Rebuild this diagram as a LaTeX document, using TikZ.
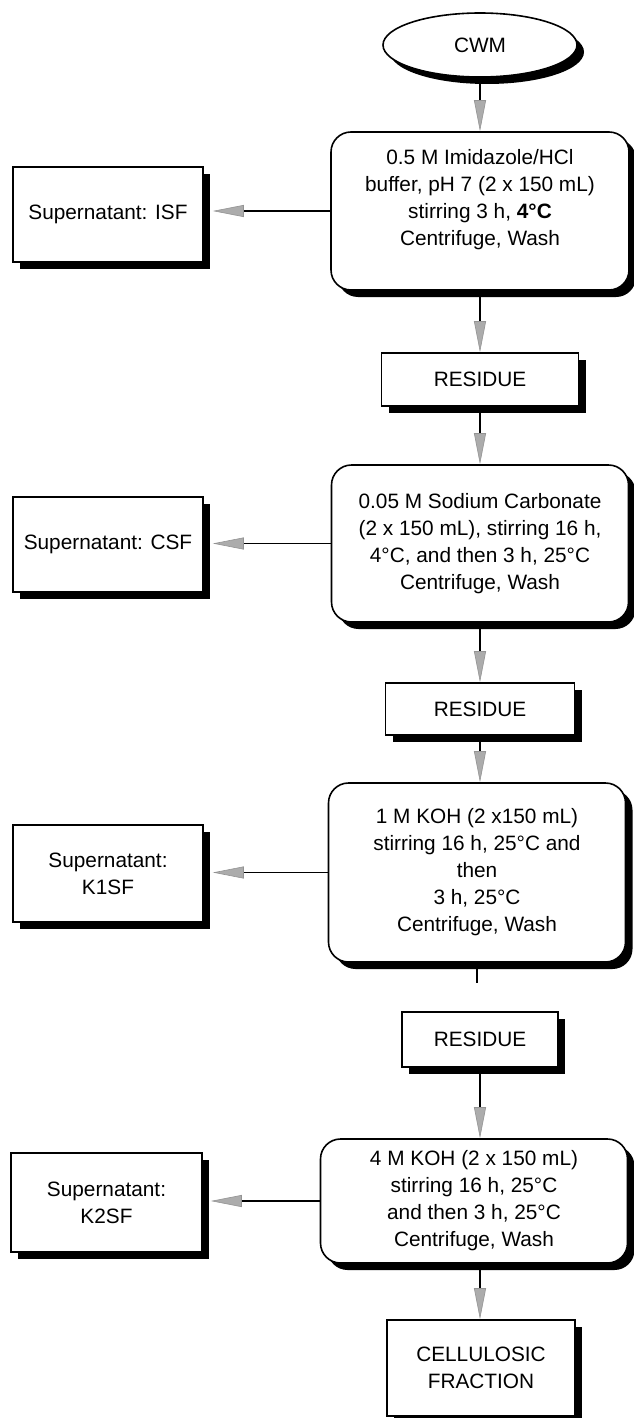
\documentclass[tikz,border=0pt]{standalone}
\usepackage{fontspec}
\setmainfont{Liberation Sans}
\usetikzlibrary{shapes.geometric,shadows,arrows.meta}
\begin{document}
\begin{tikzpicture}[x=1pt,y=-1pt,
  font=\fontsize{20.8}{27}\selectfont,
  shad/.style={drop shadow={shadow xshift=7pt,shadow yshift=-7pt,opacity=1,fill=black}},
  sqbox/.style={draw,line width=1.6pt,fill=white,shad,align=center,inner sep=0pt},
  rbox/.style={sqbox,rounded corners=20pt},
  conn/.style={line width=1.3pt,-{Triangle[length=31pt,width=12pt,color=gray!85,fill=gray!65,line width=0.6pt]}},
  plain/.style={line width=1.3pt}
  ]
\useasboundingbox (0,0) rectangle (634,1418);
% column nodes
\node[ellipse,draw,line width=1.6pt,fill=white,shad,minimum width=194pt,minimum height=64pt,inner sep=0pt] (cwm) at (480,45) {CWM};
\node[rbox,minimum width=298pt,minimum height=158pt] (b1) at (480,211)
  {0.5 M Imidazole/HCl\\buffer, pH 7 (2 x 150 mL)\\stirring 3 h, \textbf{4°C}\\Centrifuge, Wash\\\mbox{}};
\node[sqbox,minimum width=197pt,minimum height=53pt] (r1) at (480,379.5) {RESIDUE};
\node[rbox,minimum width=297pt,minimum height=157pt] (b2) at (480,543.5)
  {0.05 M Sodium Carbonate\\(2 x 150 mL), stirring 16 h,\\4°C, and then 3 h, 25°C\\Centrifuge, Wash};
\node[sqbox,minimum width=189pt,minimum height=52pt] (r2) at (480,709) {RESIDUE};
\node[rbox,minimum width=297pt,minimum height=179pt] (b3) at (477,872.5)
  {1 M KOH (2 x150 mL)\\stirring 16 h, 25°C and\\then\\3 h, 25°C\\Centrifuge, Wash};
\node[sqbox,minimum width=156pt,minimum height=55pt] (r3) at (480,1039.5) {RESIDUE};
\node[rbox,minimum width=307pt,minimum height=124pt] (b4) at (474,1201)
  {4 M KOH (2 x 150 mL)\\stirring 16 h, 25°C\\and then 3 h, 25°C\\Centrifuge, Wash};
\node[sqbox,minimum width=188pt,minimum height=96pt] (cf) at (481,1368) {CELLULOSIC\\FRACTION};
% side nodes
\node[sqbox,minimum width=190pt,minimum height=95pt] (isf) at (108,214.5) {Supernatant: ISF};
\node[sqbox,minimum width=190pt,minimum height=95pt] (csf) at (108,544.5) {Supernatant: CSF};
\node[sqbox,minimum width=190pt,minimum height=97pt] (k1) at (108,873.5) {Supernatant:\\K1SF};
\node[sqbox,minimum width=191pt,minimum height=99pt] (k2) at (106.5,1202.5) {Supernatant:\\K2SF};
% vertical connectors
\draw[conn] (cwm.south) -- (cwm.south |- b1.north);
\draw[conn] (b1.south) -- (b1.south |- r1.north);
\draw[conn] (r1.south) -- (r1.south |- b2.north);
\draw[conn] (b2.south) -- (b2.south |- r2.north);
\draw[conn] (r2.south) -- (r2.south |- b3.north);
\coordinate (stub) at ([yshift=-20pt]b3.south);
\draw[plain] (b3.south) -- (stub);
\draw[conn] (r3.south) -- (r3.south |- b4.north);
\draw[conn] (r3.south |- b4.south) -- (r3.south |- cf.north);
% horizontal connectors
\draw[conn,shorten >=9pt] (b1.west) -- (b1.west -| isf.east);
\draw[conn,shorten >=9pt] (b2.west) -- (b2.west -| csf.east);
\draw[conn,shorten >=9pt] (b3.west) -- (b3.west -| k1.east);
\draw[conn,shorten >=8pt] (b4.west) -- (b4.west -| k2.east);
\end{tikzpicture}
\end{document}
